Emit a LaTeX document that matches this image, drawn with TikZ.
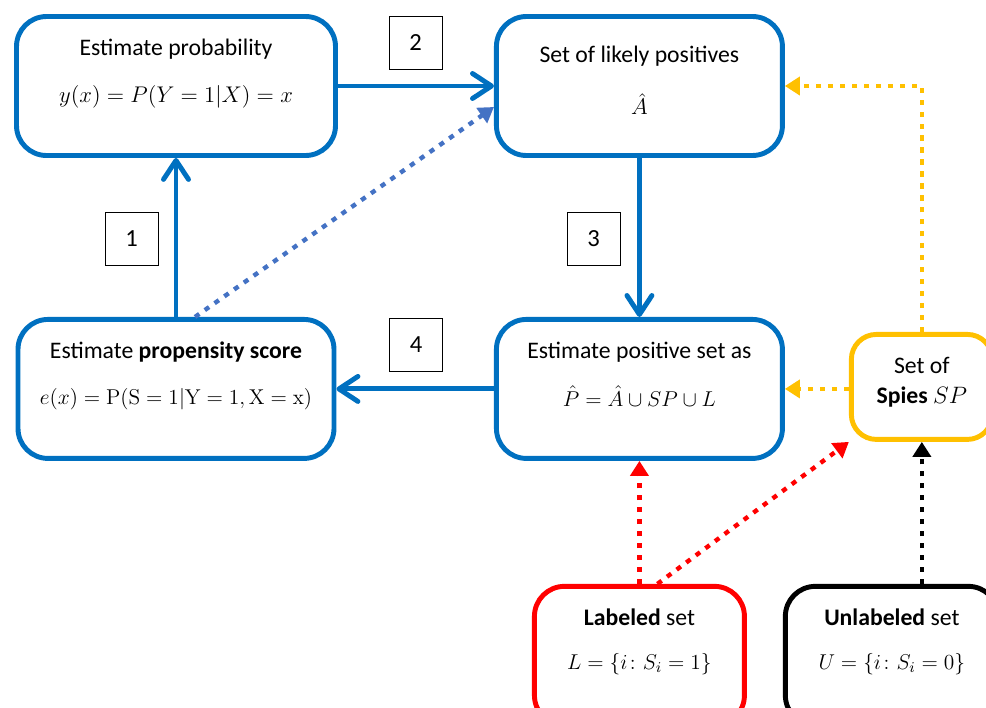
\documentclass[tikz,border=0pt]{standalone}
\usepackage{fix-cm}
\usepackage{amssymb}
\usepackage{amsmath}
\usepackage[no-math]{fontspec}
\setmainfont{Carlito}
\usepackage{tikz}
\usetikzlibrary{positioning}
\usetikzlibrary{arrows.meta}

\definecolor{boxblue}{HTML}{0070C0}
\definecolor{dotblue}{HTML}{4472C4}
\definecolor{spyyellow}{HTML}{FFC000}

\begin{document}
\begin{tikzpicture}
[
box-a/.style={draw=boxblue, line width=2.8pt, rounded corners=0.6cm, minimum width=5.72cm, minimum height=2.78cm},
num-a/.style={draw, thin, minimum size=1.06cm, font=\fontsize{14}{16}\selectfont},
text-a/.style={black, font=\fontsize{13.5}{16}\selectfont},
form-a/.style={black, font=\fontsize{12.9}{15}\selectfont},
form-b/.style={black, font=\fontsize{12.2}{15}\selectfont},
step-a/.style={draw=boxblue, line width=2.8pt, -{Straight Barb[length=3.8mm, width=5mm, round]}},
spy-a/.style={line width=2.5pt, dash pattern=on 3pt off 3.8pt, -{Triangle[length=3mm, width=3.6mm]}},
]
\clip (0,0) rectangle (19.72,-14.14);
\node (a) [box-a, minimum width=6.38cm]                  at (3.52,-1.72) {};
\node (b) [box-a, right = 3.12cm of a]                                  {};
\node (c) [box-a, minimum width=6.32cm, below = 3.18cm of a]            {};
\node (d) [box-a, below = 3.18cm of b]                                  {};
\node (e) [box-a, draw=spyyellow, minimum width=2.82cm, minimum height=2.1cm,
           rounded corners=0.5cm, right = 1.28cm of d, yshift=0.04cm]   {};
\node (f) [box-a, draw=red, minimum width=4.2cm, below = 2.46cm of d]   {};
\node (g) [box-a, draw=black, minimum width=4.26cm, right = 0.72cm of f] {};
\node (ta1) [text-a] at ([yshift=-0.70cm]a.north) {Estimate probability};
\node (ta2) [form-a] at ([yshift=-1.66cm]a.north) {$y(x) = P(Y = 1|X) = x$};
\node (tb1) [text-a] at ([yshift=-0.84cm]b.north) {Set of likely positives};
\node (tb2) [form-a] at ([yshift=-1.80cm]b.north) {$\hat{A}$};
\node (tc1) [text-a] at ([yshift=-0.70cm]c.north) {Estimate \textbf{propensity score}};
\node (tc2) [form-b] at ([yshift=-1.64cm]c.north) {$e(x) = \mathrm{P}(\mathrm{S} = 1|\mathrm{Y} = 1, \mathrm{X} = \mathrm{x})$};
\node (td1) [text-a] at ([yshift=-0.70cm]d.north) {Estimate positive set as};
\node (td2) [form-b] at ([yshift=-1.58cm]d.north) {$\hat{P} = \hat{A} \cup SP \cup L$};
\node (te1) [text-a] at ([yshift=-0.66cm]e.north) {Set of};
\node (te2) [text-a] at ([yshift=-1.30cm]e.north) {\textbf{Spies} $SP$};
\node (tf1) [text-a] at ([yshift=-0.66cm]f.north) {\textbf{Labeled} set};
\node (tf2) [form-b] at ([yshift=-1.60cm]f.north) {$L = \{i\colon S_i = 1\}$};
\node (tg1) [text-a] at ([yshift=-0.66cm]g.north) {\textbf{Unlabeled} set};
\node (tg2) [form-b] at ([yshift=-1.60cm]g.north) {$U = \{i\colon S_i = 0\}$};
\node (n2) [num-a] at (8.31,-0.86) {2};
\node (n1) [num-a] at (2.63,-4.78) {1};
\node (n3) [num-a] at (11.87,-4.78) {3};
\node (n4) [num-a] at (8.32,-6.90) {4};
\draw [step-a] (c.north -| a.south) -- (a.south);
\draw [step-a] (a.east) -- (b.west);
\draw [step-a] (b.south) -- (d.north);
\draw [step-a] (d.west) -- (c.east);
\draw [spy-a, dotblue] ([xshift=0.38cm]c.north) -- ([yshift=-0.42cm]b.west);
\draw [spy-a, spyyellow] (e.north) |- (b.east);
\draw [spy-a, spyyellow] (d.east -| e.west) -- (d.east);
\draw [spy-a, red] (f.north) -- (d.south);
\draw [spy-a, red] ([xshift=0.36cm]f.north) -- (e.south west);
\draw [spy-a] (e.south |- g.north) -- (e.south);
\end{tikzpicture}
\end{document}
